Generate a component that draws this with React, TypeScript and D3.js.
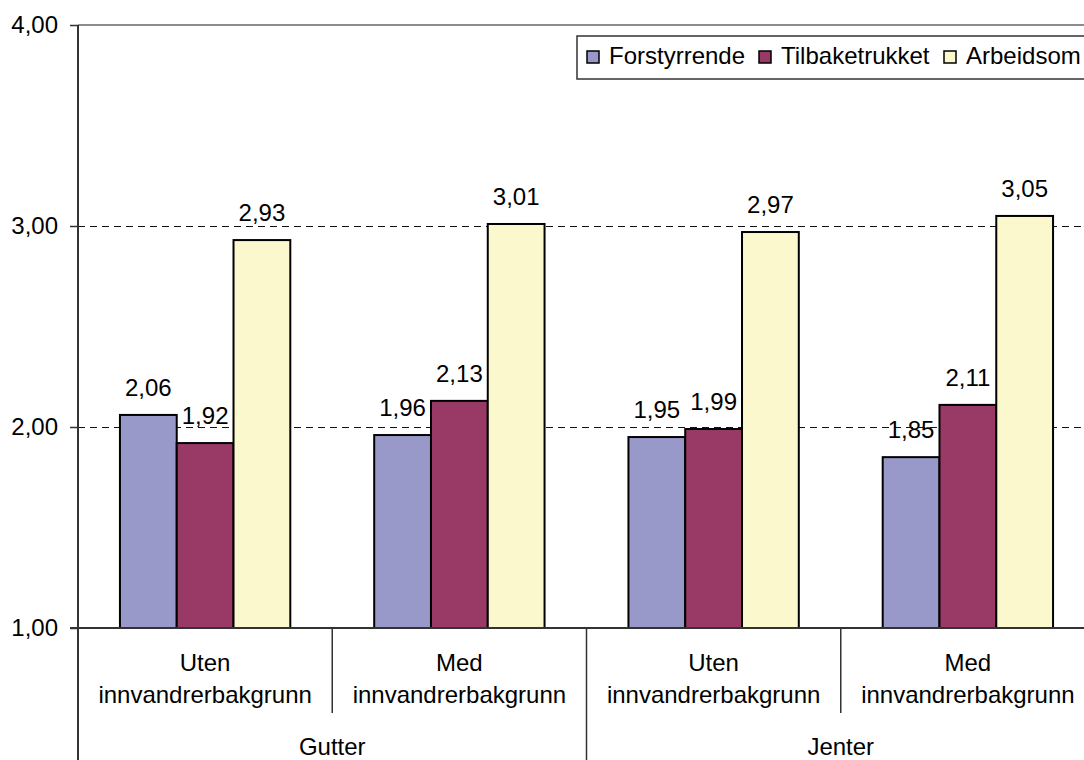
import { useEffect, useRef } from 'react';
import * as d3 from 'd3';

const groups = ['Gutter', 'Jenter'];
const subgroups = ['Uten', 'Med'];
const categories = ['Gutter|Uten', 'Gutter|Med', 'Jenter|Uten', 'Jenter|Med'];
const series = ['Forstyrrende', 'Tilbaketrukket', 'Arbeidsom'];
const forstyrrende = [2.06, 1.96, 1.95, 1.85];
const tilbaketrukket = [1.92, 2.13, 1.99, 2.11];
const arbeidsom = [2.93, 3.01, 2.97, 3.05];
const yTicks = [1, 2, 3, 4];

const colors = ['#9999c9', '#993a66', '#faf8cc'];
const FONT = '"Liberation Sans", Arial, sans-serif';

export default function App() {
  const svgRef = useRef<SVGSVGElement>(null);

  useEffect(() => {
    const W = 1084;
    const H = 760;
    const left = 78;
    const right = 1095;
    const top = 25;
    const bottom = 628;

    const svg = d3.select(svgRef.current);
    svg.selectAll('*').remove();
    svg.attr('width', W).attr('height', H);

    const values = [forstyrrende, tilbaketrukket, arbeidsom];

    const x = d3.scaleBand().domain(categories).range([left, right]);
    const bw = x.bandwidth();
    const xs = d3.scaleBand().domain(series).range([bw * 0.165, bw * 0.835]);
    const y = d3.scaleLinear().domain([1, 4]).range([bottom, top]);
    const fmt = (v: number) => d3.format('.2f')(v).replace('.', ',');

    // top border
    svg.append('line').attr('x1', left).attr('x2', right).attr('y1', top).attr('y2', top)
      .attr('stroke', '#8c8c8c').attr('stroke-width', 2);

    // gridlines
    svg.append('g').selectAll('line').data(yTicks.filter(t => t > 1 && t < 4)).enter().append('line')
      .attr('x1', left).attr('x2', right).attr('y1', d => Math.round(y(d)) + 0.5).attr('y2', d => Math.round(y(d)) + 0.5)
      .attr('stroke', '#111').attr('stroke-width', 1).attr('stroke-dasharray', '7,5')
      .attr('shape-rendering', 'crispEdges');

    // y axis
    const ya = svg.append('g').attr('transform', `translate(${left},0)`)
      .call(d3.axisLeft(y).tickValues(yTicks).tickSize(8).tickPadding(12).tickFormat(d => fmt(+d)));
    ya.select('.domain').remove();
    ya.selectAll('line').attr('stroke', '#333').attr('stroke-width', 1.5);
    ya.selectAll('text').attr('fill', '#000').attr('font-size', 24).attr('font-family', FONT);

    // bars
    categories.forEach((c, ci) => {
      series.forEach((s, si) => {
        const v = values[si][ci];
        const bx = (x(c) as number) + (xs(s) as number);
        svg.append('rect')
          .attr('x', bx).attr('y', y(v)).attr('width', xs.bandwidth()).attr('height', bottom - y(v))
          .attr('fill', colors[si]).attr('stroke', '#000').attr('stroke-width', 2);
        svg.append('text')
          .attr('x', bx + xs.bandwidth() / 2).attr('y', y(v) - 19)
          .attr('text-anchor', 'middle').attr('font-size', 24).attr('font-family', FONT)
          .text(fmt(v));
      });
    });

    // axis lines
    svg.append('line').attr('x1', left).attr('x2', left).attr('y1', top).attr('y2', H)
      .attr('stroke', '#333').attr('stroke-width', 2);
    svg.append('line').attr('x1', left - 8).attr('x2', right).attr('y1', bottom).attr('y2', bottom)
      .attr('stroke', '#333').attr('stroke-width', 2);

    // category dividers
    categories.forEach((c, ci) => {
      if (ci === 0) return;
      const full = ci % subgroups.length === 0;
      svg.append('line').attr('x1', x(c) as number).attr('x2', x(c) as number)
        .attr('y1', bottom).attr('y2', full ? H : 713)
        .attr('stroke', '#333').attr('stroke-width', 1.5);
    });

    // category labels
    categories.forEach(c => {
      const cx = (x(c) as number) + bw / 2;
      const sub = c.split('|')[1];
      const t = svg.append('text').attr('text-anchor', 'middle').attr('font-size', 24).attr('font-family', FONT);
      t.append('tspan').attr('x', cx).attr('y', 671).text(sub);
      t.append('tspan').attr('x', cx).attr('y', 703).text('innvandrerbakgrunn');
    });
    groups.forEach((g, gi) => {
      const gx = left + (gi + 0.5) * bw * subgroups.length;
      svg.append('text').attr('x', gx).attr('y', 755).attr('text-anchor', 'middle')
        .attr('font-size', 24).attr('font-family', FONT).text(g);
    });

    // legend
    const lg = svg.append('g');
    lg.append('rect').attr('x', 577).attr('y', 36).attr('width', 530).attr('height', 43)
      .attr('fill', '#fff').attr('stroke', '#333').attr('stroke-width', 1.5);
    const lx = [587, 759, 944];
    series.forEach((s, i) => {
      lg.append('rect').attr('x', lx[i]).attr('y', 51).attr('width', 12).attr('height', 12)
        .attr('fill', colors[i]).attr('stroke', '#000').attr('stroke-width', 1.5);
      lg.append('text').attr('x', lx[i] + 22).attr('y', 64).attr('font-size', 24).attr('font-family', FONT)
        .text(s);
    });
  }, []);

  return (
    <div style={{ position: 'absolute', left: 0, top: 0, width: 1084, height: 760, background: '#fff', overflow: 'hidden' }}>
      <svg ref={svgRef} style={{ display: 'block' }} />
    </div>
  );
}
